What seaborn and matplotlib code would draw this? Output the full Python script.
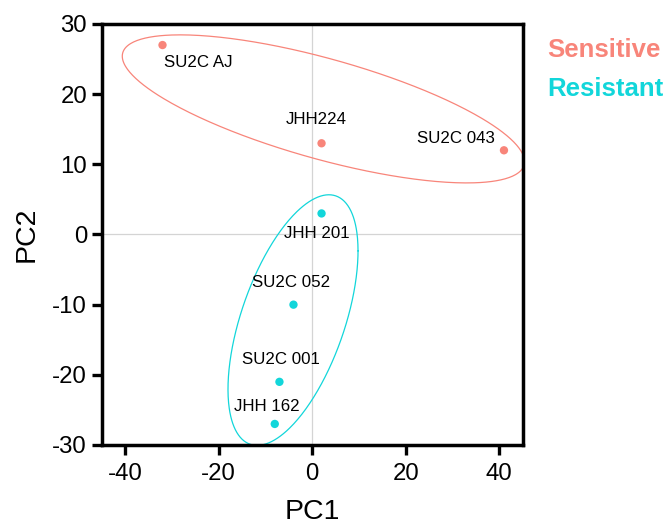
import numpy as np
import pandas as pd
import matplotlib
matplotlib.use("Agg")
import matplotlib.pyplot as plt
import seaborn as sns

# PCA scores per cell line
samples = ["SU2C AJ", "JHH224", "SU2C 043", "JHH 201", "SU2C 052", "SU2C 001", "JHH 162"]
pc1 = [-32, 2, 41, 2, -4, -7, -8]
pc2 = [27, 13, 12, 3, -10, -21, -27]
groups = ["Sensitive", "Sensitive", "Sensitive", "Resistant", "Resistant", "Resistant", "Resistant"]

group_names = ["Sensitive", "Resistant"]
group_colors = {"Sensitive": "#F8857A", "Resistant": "#12D6DA"}

# group outlines: centre and shape matrix [[sxx, sxy], [sxy, syy]] in data units
outline_center = {"Sensitive": (2.4, 17.9), "Resistant": (-4.1, -12.2)}
outline_shape = {
    "Sensitive": [[1849.0, -323.0], [-323.0, 111.3]],
    "Resistant": [[193.2, 137.0], [137.0, 319.0]],
}

# label placement (offset in pixels from each point, alignment)
label_offsets = [(1, -17, "left"), (-5, 24, "center"), (-9, 12, "right"),
                 (-5, -20, "center"), (-2, 22, "center"), (1, 22, "center"),
                 (-8, 17, "center")]

df = pd.DataFrame({"PC1": pc1, "PC2": pc2, "Group": groups, "Sample": samples})

sns.set_theme(style="white")
plt.rcParams["font.family"] = ["Liberation Sans", "DejaVu Sans"]
plt.rcParams["axes.unicode_minus"] = False
plt.rcParams["text.color"] = "black"
plt.rcParams["axes.labelcolor"] = "black"

DPI = 100
fig = plt.figure(figsize=(6.66, 5.25), dpi=DPI)
ax = fig.add_axes([0.1527, 0.1524, 0.6321, 0.8019])

ax.axhline(0, color="#d4d4d4", lw=0.9, zorder=0)
ax.axvline(0, color="#d4d4d4", lw=0.9, zorder=0)

sns.scatterplot(data=df, x="PC1", y="PC2", hue="Group", hue_order=group_names,
                palette=group_colors, s=36, edgecolor="none", legend=False,
                ax=ax, zorder=3)

# outline ellipses
t = np.linspace(0, 2 * np.pi, 400)
for g in group_names:
    L = np.linalg.cholesky(np.array(outline_shape[g]))
    pts = L @ np.vstack([np.cos(t), np.sin(t)])
    cx, cy = outline_center[g]
    ax.plot(cx + pts[0], cy + pts[1], color=group_colors[g], lw=0.9, zorder=2)

px2pt = 72.0 / DPI
for name, x, y, (dx, dy, ha) in zip(samples, pc1, pc2, label_offsets):
    ax.annotate(name, (x, y), xytext=(dx * px2pt, dy * px2pt),
                textcoords="offset points", ha=ha, va="center",
                fontsize=12.2, color="black")

ax.set_xlim(-45, 45)
ax.set_ylim(-30, 30)
ax.set_xticks([-40, -20, 0, 20, 40])
ax.set_yticks([-30, -20, -10, 0, 10, 20, 30])
ax.set_xlabel("PC1", fontsize=20.5, labelpad=10, color="black")
ax.set_ylabel("PC2", fontsize=20.5, labelpad=9, color="black")

for sp in ax.spines.values():
    sp.set_visible(True)
    sp.set_color("black")
    sp.set_linewidth(2.5)
ax.tick_params(axis="both", which="major", direction="out", length=7.5, width=2.4,
               color="black", labelsize=17.3, bottom=True, left=True,
               labelcolor="black")
ax.tick_params(axis="x", pad=5.5)
ax.tick_params(axis="y", pad=3)

fig.text(547 / 666, 1 - 56.7 / 525, "Sensitive", color=group_colors["Sensitive"],
         fontsize=18.5, fontweight="bold", va="baseline", ha="left")
fig.text(547 / 666, 1 - 96 / 525, "Resistant", color=group_colors["Resistant"],
         fontsize=18.5, fontweight="bold", va="baseline", ha="left")

fig.savefig("out.png", dpi=DPI)
